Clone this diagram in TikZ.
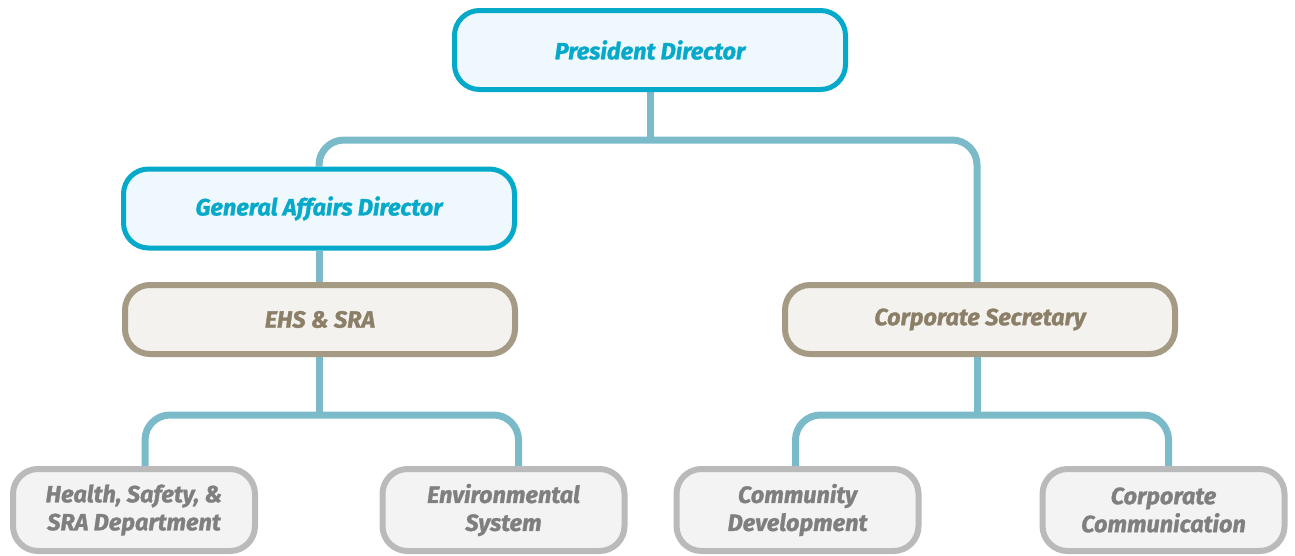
\documentclass[tikz,border=0pt]{standalone}
\usepackage{fontspec}
\setmainfont{Fira Sans}[BoldItalicFont={Fira Sans Bold Italic},BoldItalicFeatures={FakeBold=1.2}]
\usetikzlibrary{backgrounds}
\definecolor{bblue}{HTML}{05A9C9}
\definecolor{fblue}{HTML}{EFF8FD}
\definecolor{conn}{HTML}{7ABAC9}
\definecolor{btan}{HTML}{A59A84}
\definecolor{ftan}{HTML}{F3F2EE}
\definecolor{ttan}{HTML}{8C7F68}
\definecolor{bgray}{HTML}{BBBABA}
\definecolor{fgray}{HTML}{F3F3F3}
\definecolor{tgray}{HTML}{7F7F7F}
\tikzset{
  boxbase/.style={rectangle, rounded corners=25pt, inner sep=0pt, align=center,
    font=\fontsize{23.5}{28}\selectfont\bfseries\itshape},
  bluebox/.style={boxbase, draw=bblue, fill=fblue, text=bblue, line width=5pt,
    minimum width=391pt, minimum height=79pt},
  tanbox/.style={boxbase, draw=btan, fill=ftan, text=ttan, line width=6pt,
    minimum width=390pt, minimum height=69pt},
  graybox/.style={boxbase, draw=bgray, fill=fgray, text=tgray, line width=6pt,
    minimum width=242pt, minimum height=82pt},
  connline/.style={draw=conn, line width=7pt, rounded corners=25pt}
}
\begin{document}
\begin{tikzpicture}[x=1pt,y=-1pt]
\useasboundingbox (0,0) rectangle (1295,555);
\node[bluebox] (PD) at (650,50) {President Director};
\node[bluebox] (GA) at (319,208.5) {General Affairs Director};
\node[tanbox] (EHS) at (320,319.5) {EHS \& SRA};
\node[tanbox] (CS) at (980,319.5) {Corporate Secretary};
\node[graybox] (HS) at (134,510) {Health, Safety, \&\\SRA Department};
\node[graybox] (ES) at (503.5,510) {Environmental\\System};
\node[graybox] (CD) at (797.5,510) {Community\\Development};
\node[graybox] (CC) at (1163.5,510) {Corporate\\Communication};
\coordinate (j1) at (650,140);
\coordinate (j2) at (319,415);
\coordinate (j3) at (977,415);
\begin{scope}[on background layer]
\draw[connline] (PD.south) -- (j1);
\draw[connline] (GA.north) |- (j1) -| ([xshift=-3pt]CS.north);
\draw[connline] (GA.south) -- ([xshift=-1pt]EHS.north);
\draw[connline] ([xshift=-1pt]EHS.south) -- (j2);
\draw[connline] ([xshift=11pt]HS.north) |- (j2) -| ([xshift=15pt]ES.north);
\draw[connline] ([xshift=-3pt]CS.south) -- (j3);
\draw[connline] ([xshift=-2pt]CD.north) |- (j3) -| ([xshift=5pt]CC.north);
\end{scope}
\end{tikzpicture}
\end{document}
